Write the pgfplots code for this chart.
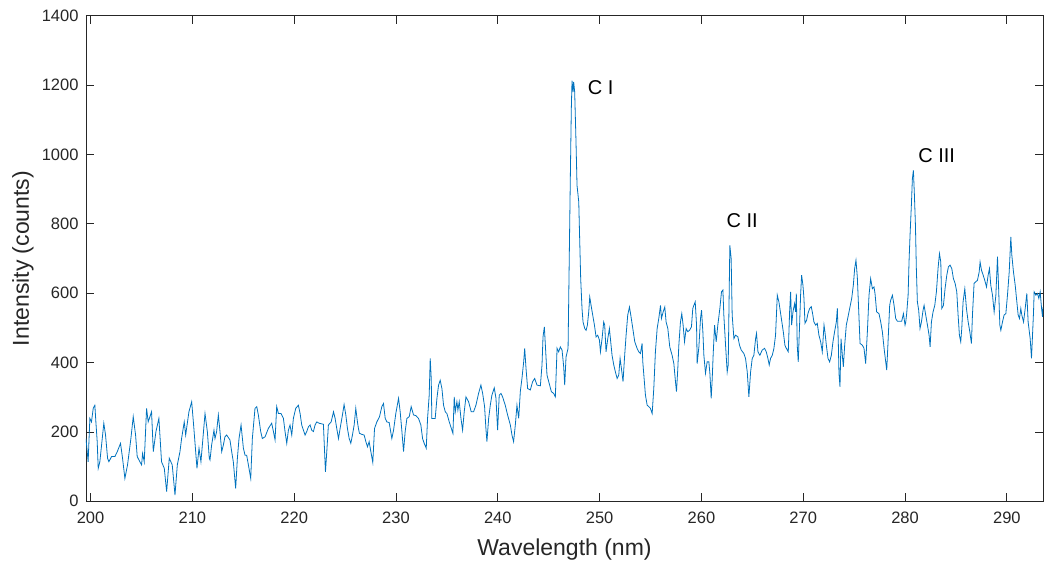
\documentclass[border=0pt]{standalone}
\usepackage{fontspec}
\setmainfont{Liberation Sans}
\usepackage{pgfplots}
\pgfplotsset{compat=1.18}
\definecolor{mlblue}{HTML}{0072BD}
\definecolor{mlaxis}{HTML}{262626}

\pgfplotstableread{
x y
199.55 181
199.76 114
199.93 239
200.09 229
200.26 268
200.42 277
200.52 229
200.65 172
200.75 95
200.91 114
201.08 162
201.30 225
201.47 191
201.67 124
201.80 114
202.06 129
202.39 129
202.62 143
202.94 167
203.14 124
203.37 66
203.63 105
203.96 181
204.19 244
204.42 191
204.58 129
204.84 114
205.01 105
205.11 138
205.27 114
205.50 268
205.66 229
205.99 258
206.16 143
206.42 201
206.71 239
206.97 114
207.24 95
207.47 28
207.73 124
208.02 105
208.29 18
208.52 105
208.78 143
208.94 181
209.20 229
209.34 191
209.66 258
209.93 287
210.12 220
210.45 95
210.65 153
210.84 114
211.24 253
211.47 201
211.66 124
211.73 119
211.89 162
212.12 205
212.22 181
212.38 201
212.55 249
212.71 201
212.88 143
213.04 162
213.20 186
213.37 191
213.69 177
213.86 143
214.02 114
214.25 37
214.42 124
214.58 181
214.78 220
215.01 153
215.17 133
215.33 133
215.50 105
215.73 66
215.89 181
216.15 268
216.32 273
216.48 249
216.71 201
216.87 181
217.14 186
217.46 210
217.79 225
217.96 201
218.12 177
218.28 273
218.45 253
218.71 253
218.94 239
219.10 201
219.27 167
219.43 205
219.59 220
219.76 191
219.92 239
220.15 268
220.41 277
220.58 253
220.74 220
220.91 205
221.07 191
221.23 201
221.40 215
221.56 220
221.72 205
221.89 201
222.05 220
222.22 229
222.45 225
222.87 222
222.97 153
223.07 85
223.20 143
223.36 220
223.63 229
223.86 258
224.02 239
224.18 210
224.35 181
224.51 210
224.74 249
224.90 279
225.07 249
225.23 210
225.40 181
225.56 167
225.72 191
225.89 220
226.05 268
226.21 229
226.31 210
226.41 196
226.64 193
226.87 191
227.04 172
227.20 157
227.36 172
227.53 143
227.72 112
227.89 210
228.12 229
228.38 244
228.61 273
228.77 282
228.94 239
229.10 229
229.33 227
229.59 181
229.76 205
229.98 253
230.25 297
230.41 258
230.57 205
230.74 143
230.90 201
231.07 239
231.30 244
231.49 273
231.72 249
231.95 247
232.21 239
232.44 220
232.61 181
232.77 167
232.97 153
233.10 239
233.26 306
233.36 412
233.46 354
233.52 239
233.69 239
233.85 239
234.02 297
234.18 335
234.34 349
234.51 325
234.67 277
234.84 258
235.00 253
235.23 229
235.49 205
235.59 196
235.72 301
235.82 258
235.98 287
236.08 263
236.21 287
236.38 239
236.54 205
236.70 258
236.87 301
237.13 287
237.39 258
237.62 258
237.85 277
238.11 311
238.34 335
238.51 311
238.70 273
238.83 210
238.93 172
239.10 239
239.26 277
239.42 306
239.65 327
239.82 297
239.98 205
240.14 306
240.31 311
240.47 301
240.73 277
240.96 249
241.23 220
241.39 191
241.55 172
241.72 220
241.88 277
242.05 239
242.21 316
242.37 354
242.54 402
242.64 441
242.77 383
242.93 325
243.19 321
243.42 345
243.62 354
243.85 335
244.18 333
244.34 393
244.44 474
244.57 503
244.67 450
244.83 364
245.00 345
245.26 316
245.49 311
245.65 301
245.82 441
245.98 431
246.14 445
246.31 436
246.47 388
246.57 335
246.70 416
246.90 441
247.03 729
247.13 949
247.22 1132
247.29 1213
247.39 1180
247.45 1209
247.55 1180
247.68 1036
247.78 911
247.95 863
248.04 757
248.14 642
248.27 556
248.37 517
248.54 498
248.67 493
248.80 508
248.93 546
249.03 589
249.16 565
249.32 537
249.49 508
249.65 474
249.81 479
249.98 465
250.08 431
250.24 469
250.40 517
250.50 508
250.63 431
250.80 469
250.96 498
251.09 460
251.22 421
251.39 393
251.55 373
251.72 354
251.88 364
252.01 412
252.14 383
252.30 345
252.44 412
252.60 479
252.76 537
252.93 560
253.06 537
253.26 498
253.45 460
253.68 441
253.85 431
254.01 426
254.17 455
254.24 402
254.37 354
254.50 306
254.67 277
254.83 273
254.99 268
255.16 253
255.32 325
255.48 431
255.65 498
255.81 527
255.98 565
256.07 527
256.24 546
256.40 560
256.53 517
256.70 498
256.89 445
257.12 421
257.29 397
257.45 345
257.55 316
257.68 383
257.78 450
257.94 517
258.07 541
258.20 508
258.34 460
258.50 498
258.66 489
258.83 493
259.02 503
259.15 556
259.32 570
259.39 575
259.52 508
259.58 397
259.75 445
259.91 527
260.01 551
260.14 489
260.24 421
260.40 369
260.56 402
260.73 402
260.83 369
260.96 297
261.06 354
261.15 421
261.29 508
261.45 460
261.61 508
261.81 556
261.97 604
262.11 609
262.20 537
262.37 450
262.53 373
262.63 393
262.70 546
262.79 738
262.92 700
263.02 537
263.19 469
263.35 479
263.58 474
263.74 450
263.91 436
264.17 426
264.33 412
264.50 373
264.66 301
264.83 373
264.99 412
265.15 421
265.32 469
265.41 484
265.55 431
265.74 421
265.97 436
266.20 441
266.37 431
266.53 412
266.66 393
266.79 412
266.96 421
267.12 441
267.28 479
267.45 594
267.61 575
267.78 541
268.04 489
268.20 450
268.27 445
268.43 436
268.53 431
268.66 546
268.76 604
268.86 508
268.99 546
269.15 570
269.25 546
269.32 599
269.41 450
269.51 402
269.64 508
269.74 594
269.84 652
269.97 623
270.07 585
270.17 513
270.33 522
270.46 541
270.63 556
270.79 561
270.92 541
271.05 517
271.22 508
271.38 513
271.54 479
271.71 460
271.87 431
272.04 508
272.13 489
272.27 450
272.43 412
272.59 402
272.76 421
272.92 460
273.08 489
273.25 517
273.35 556
273.45 450
273.51 369
273.61 330
273.71 469
273.84 421
273.94 388
274.07 450
274.23 508
274.40 532
274.56 556
274.76 585
274.92 623
275.05 671
275.18 695
275.31 647
275.48 527
275.58 455
275.81 450
275.97 441
276.13 397
276.30 489
276.46 594
276.62 642
276.79 613
276.95 618
277.05 599
277.21 546
277.44 541
277.61 517
277.77 489
277.94 441
278.10 402
278.20 378
278.33 460
278.49 565
278.59 580
278.76 594
278.92 565
279.08 527
279.25 519
279.51 519
279.67 519
279.84 541
280.00 508
280.07 517
280.16 541
280.30 594
280.39 690
280.49 767
280.62 853
280.72 930
280.82 954
280.92 882
281.02 796
281.11 671
281.21 575
281.34 551
281.47 498
281.61 517
281.77 551
281.87 565
282.03 537
282.20 508
282.36 479
282.46 445
282.59 517
282.75 546
282.92 565
283.08 604
283.24 671
283.38 714
283.51 690
283.61 556
283.77 565
283.93 613
284.10 652
284.26 676
284.42 681
284.59 671
284.75 642
284.92 628
285.08 604
285.21 537
285.34 479
285.47 460
285.57 498
285.70 575
285.87 613
286.03 556
286.20 517
286.36 489
286.52 455
286.62 537
286.78 628
286.95 633
287.11 637
287.28 661
287.37 690
287.51 666
287.67 652
287.83 637
288.00 618
288.16 652
288.29 671
288.42 623
288.59 594
288.75 546
288.92 594
289.08 705
289.18 623
289.31 508
289.41 493
289.57 517
289.73 537
289.90 541
290.06 594
290.23 661
290.39 762
290.49 709
290.65 661
290.82 623
290.98 575
291.11 537
291.24 527
291.37 556
291.47 537
291.64 517
291.80 556
291.96 599
292.09 517
292.29 469
292.42 412
292.52 479
292.62 546
292.68 604
292.85 594
293.01 599
293.14 585
293.27 604
293.41 556
293.50 532
293.55 560
}\spectrum

\begin{document}
\begin{tikzpicture}
% fix the page to the reference proportions (1 px = 1 pt)
\path[use as bounding box] (-86pt,-60.7pt) rectangle (958pt,501.3pt);
\begin{axis}[
  scale only axis,
  width=957pt, height=485.6pt,
  xmin=199.55, xmax=293.55, ymin=0, ymax=1400,
  xtick={200,210,...,290},
  ytick={0,200,...,1400},
  tick align=inside,
  major tick length=8pt,
  axis line style={mlaxis, line width=0.8pt},
  every tick/.style={mlaxis, line width=0.8pt},
  /pgf/number format/assume math mode=true,
  /pgf/number format/set thousands separator={},
  ticklabel style={font=\fontsize{16.5}{18}\selectfont, text=mlaxis},
  xticklabel style={yshift=-7pt},
  yticklabel style={xshift=-4pt},
  xlabel={Wavelength (nm)},
  ylabel={Intensity (counts)},
  every axis x label/.style={at={(axis description cs:0.5,0)}, anchor=center,
    yshift=-48pt, font=\fontsize{23}{26}\selectfont, text=mlaxis},
  every axis y label/.style={at={(axis description cs:0,0.5)}, anchor=center,
    xshift=-63pt, rotate=90, font=\fontsize{23}{26}\selectfont, text=mlaxis},
]
\addplot[mlblue, line width=0.8pt] table[x=x, y=y] {\spectrum};
\node[font=\fontsize{20}{22}\selectfont, text=black] at (axis cs:250.1,1192) {C I};
\node[font=\fontsize{20}{22}\selectfont, text=black] at (axis cs:264.0,809) {C II};
\node[font=\fontsize{20}{22}\selectfont, text=black] at (axis cs:283.1,996) {C III};
\end{axis}
\end{tikzpicture}
\end{document}
